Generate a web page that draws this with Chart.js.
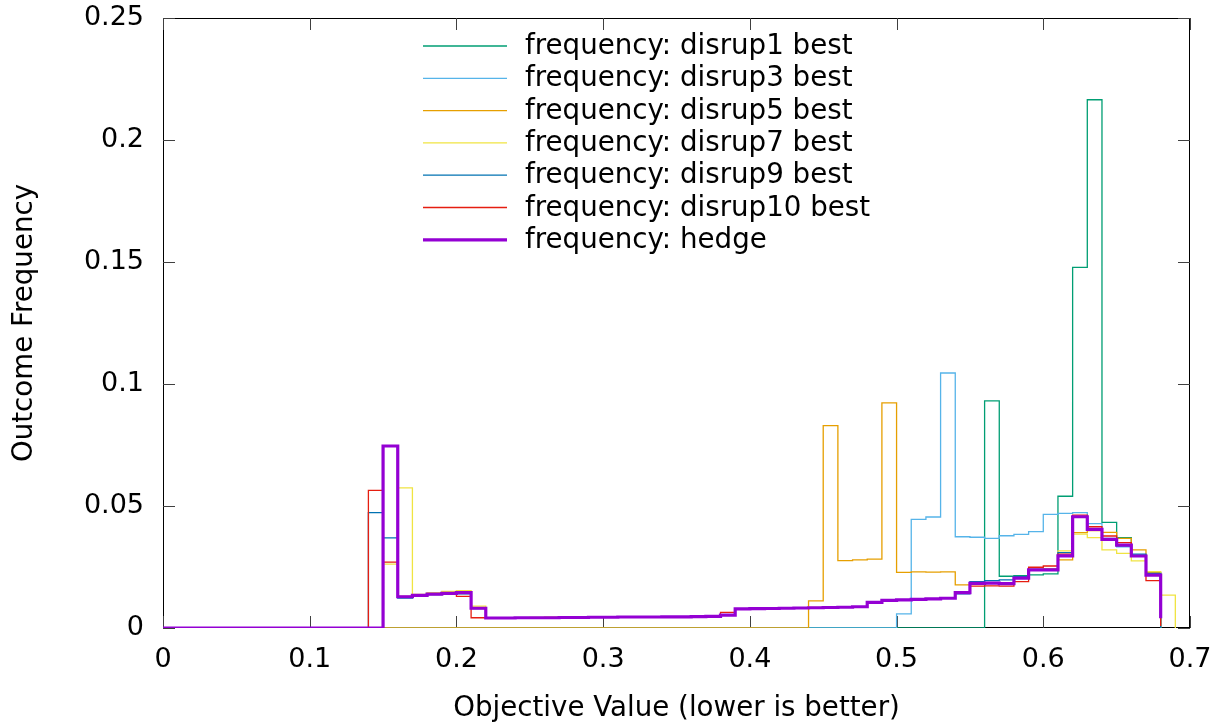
<!DOCTYPE html>
<html>
<head>
<meta charset="utf-8">
<script src="https://cdn.jsdelivr.net/npm/chart.js@4.4.1/dist/chart.umd.min.js"></script>
<style>
  html, body { margin: 0; padding: 0; background: #ffffff; }
  canvas { display: block; }
</style>
</head>
<body>
<canvas id="freqChart" width="1225" height="727"></canvas>
<script>
// bin left edges (objective value); first point is the origin of the baseline
const objective = [
  0,
  0.14, 0.15, 0.16, 0.17, 0.18, 0.19,
  0.20, 0.21, 0.22, 0.23, 0.24, 0.25, 0.26, 0.27, 0.28, 0.29,
  0.30, 0.31, 0.32, 0.33, 0.34, 0.35, 0.36, 0.37, 0.38, 0.39,
  0.40, 0.41, 0.42, 0.43, 0.44, 0.45, 0.46, 0.47, 0.48, 0.49,
  0.50, 0.51, 0.52, 0.53, 0.54, 0.55, 0.56, 0.57, 0.58, 0.59,
  0.60, 0.61, 0.62, 0.63, 0.64, 0.65, 0.66, 0.67, 0.68, 0.69
];

const disrup1 = [
  0,
  0, 0, 0, 0, 0, 0,
  0, 0, 0, 0, 0, 0, 0, 0, 0, 0,
  0, 0, 0, 0, 0, 0, 0, 0, 0, 0,
  0, 0, 0, 0, 0, 0, 0, 0, 0, 0,
  0, 0, 0, 0, 0, 0, 0.0931, 0.0212, 0.0215, 0.0218,
  0.0222, 0.0540, 0.1478, 0.2165, 0.0433, 0.0370, 0.0295, 0.0226, 0, null
];

const disrup3 = [
  0,
  0, 0, 0, 0, 0, 0,
  0, 0, 0, 0, 0, 0, 0, 0, 0, 0,
  0, 0, 0, 0, 0, 0, 0, 0, 0, 0,
  0, 0, 0, 0, 0, 0, 0, 0, 0, 0,
  0.0058, 0.0445, 0.0455, 0.1045, 0.0374, 0.0372, 0.0367, 0.0378, 0.0384, 0.0395,
  0.0466, 0.0470, 0.0473, 0.0428, 0.0367, 0.0333, 0.0300, 0.0224, 0, null
];

const disrup5 = [
  0,
  0, 0, 0, 0, 0, 0,
  0, 0, 0, 0, 0, 0, 0, 0, 0, 0,
  0, 0, 0, 0, 0, 0, 0, 0, 0, 0,
  0, 0, 0, 0, 0.0111, 0.0829, 0.0276, 0.0279, 0.0282, 0.0923,
  0.0228, 0.0230, 0.0229, 0.0230, 0.0177, 0.0180, 0.0183, 0.0182, 0.0205, 0.0240,
  0.0242, 0.0279, 0.0391, 0.0399, 0.0392, 0.0367, 0.0320, 0.0228, 0, null
];

const disrup7 = [
  0,
  0, 0.0262, 0.0574, 0.0138, 0.0145, 0.0150,
  0.0153, 0.0090, 0.0042, 0.0042, 0.0042, 0.0043, 0.0043, 0.0043, 0.0044, 0.0044,
  0.0045, 0.0045, 0.0045, 0.0046, 0.0046, 0.0047, 0.0047, 0.0048, 0.0055, 0.0079,
  0.0080, 0.0081, 0.0082, 0.0083, 0.0084, 0.0085, 0.0086, 0.0088, 0.0106, 0.0114,
  0.0116, 0.0118, 0.0120, 0.0123, 0.0145, 0.0183, 0.0184, 0.0182, 0.0205, 0.0240,
  0.0240, 0.0316, 0.0385, 0.0370, 0.0320, 0.0306, 0.0275, 0.0231, 0.0135, 0
];

const disrup9 = [
  0,
  0.0473, 0.0369, 0.0123, 0.0132, 0.0137, 0.0141,
  0.0140, 0.0080, 0.0041, 0.0041, 0.0042, 0.0042, 0.0042, 0.0043, 0.0043, 0.0044,
  0.0044, 0.0045, 0.0045, 0.0045, 0.0046, 0.0046, 0.0047, 0.0048, 0.0053, 0.0077,
  0.0079, 0.0080, 0.0081, 0.0082, 0.0083, 0.0084, 0.0085, 0.0087, 0.0104, 0.0113,
  0.0115, 0.0117, 0.0119, 0.0122, 0.0140, 0.0190, 0.0194, 0.0197, 0.0210, 0.0240,
  0.0240, 0.0309, 0.0455, 0.0402, 0.0361, 0.0338, 0.0303, 0.0224, 0, null
];

const disrup10 = [
  0,
  0.0564, 0.0270, 0.0130, 0.0135, 0.0138, 0.0140,
  0.0130, 0.0042, 0.0041, 0.0041, 0.0042, 0.0042, 0.0043, 0.0043, 0.0043, 0.0044,
  0.0044, 0.0045, 0.0045, 0.0046, 0.0046, 0.0046, 0.0047, 0.0048, 0.0064, 0.0078,
  0.0079, 0.0080, 0.0081, 0.0082, 0.0083, 0.0084, 0.0085, 0.0087, 0.0103, 0.0112,
  0.0115, 0.0117, 0.0119, 0.0122, 0.0143, 0.0172, 0.0173, 0.0172, 0.0190, 0.0249,
  0.0254, 0.0303, 0.0463, 0.0415, 0.0377, 0.0350, 0.0295, 0.0194, 0.0008, null
];

const hedge = [
  0,
  0, 0.0746, 0.0128, 0.0134, 0.0139, 0.0142,
  0.0145, 0.0081, 0.0041, 0.0041, 0.0042, 0.0042, 0.0042, 0.0043, 0.0043, 0.0044,
  0.0044, 0.0045, 0.0045, 0.0045, 0.0046, 0.0046, 0.0047, 0.0048, 0.0053, 0.0078,
  0.0079, 0.0080, 0.0081, 0.0082, 0.0083, 0.0084, 0.0085, 0.0087, 0.0105, 0.0113,
  0.0115, 0.0117, 0.0119, 0.0122, 0.0145, 0.0183, 0.0184, 0.0182, 0.0204, 0.0238,
  0.0238, 0.0296, 0.0456, 0.0404, 0.0363, 0.0340, 0.0295, 0.0217, 0.0040, null
];

const xTicks = [0, 0.1, 0.2, 0.3, 0.4, 0.5, 0.6, 0.7];
const yTicks = [0, 0.05, 0.1, 0.15, 0.2, 0.25];

const FONT = 'DejaVu Sans';
const FONT_SIZE = 27;
const LABEL_SIZE = 27.7;

function toPoints(values) {
  return objective.map((x, i) => ({ x: x, y: values[i] }));
}

function series(label, values, color, width, order) {
  return {
    label: label,
    data: toPoints(values),
    borderColor: color,
    backgroundColor: color,
    borderWidth: width,
    stepped: 'before',
    pointRadius: 0,
    fill: false,
    spanGaps: false,
    order: order
  };
}

// gnuplot-like box with inward ticks on all four sides
const frameTicks = {
  id: 'frameTicks',
  beforeDatasetsDraw(chart) {
    const { ctx, chartArea: a, scales } = chart;
    ctx.save();
    ctx.strokeStyle = '#000000';
    ctx.lineWidth = 1;
    ctx.strokeRect(a.left + 0.5, a.top + 0.5, a.right - a.left - 1, a.bottom - a.top - 1);
    ctx.strokeStyle = '#404040';
    ctx.beginPath();
    xTicks.forEach(v => {
      const px = Math.round(scales.x.getPixelForValue(v)) + 0.5;
      ctx.moveTo(px, a.bottom); ctx.lineTo(px, a.bottom - 12);
      ctx.moveTo(px, a.top); ctx.lineTo(px, a.top + 12);
    });
    yTicks.forEach(v => {
      const py = Math.round(scales.y.getPixelForValue(v)) + 0.5;
      ctx.moveTo(a.left, py); ctx.lineTo(a.left + 12, py);
      ctx.moveTo(a.right, py); ctx.lineTo(a.right - 12, py);
    });
    ctx.stroke();
    ctx.restore();
  }
};

// key in the top middle: line sample then label
const keyBox = {
  id: 'keyBox',
  afterDraw(chart) {
    const ctx = chart.ctx;
    ctx.save();
    ctx.font = LABEL_SIZE + 'px "' + FONT + '"';
    ctx.textAlign = 'left';
    ctx.textBaseline = 'middle';
    chart.data.datasets.forEach((ds, i) => {
      const y = 46 + i * 32.3;
      ctx.strokeStyle = ds.borderColor;
      ctx.lineWidth = ds.borderWidth;
      ctx.beginPath();
      ctx.moveTo(423, y);
      ctx.lineTo(507, y);
      ctx.stroke();
      ctx.fillStyle = '#000000';
      ctx.fillText(ds.label, 525, y + 1);
    });
    ctx.restore();
  }
};

Chart.defaults.font.family = FONT;
Chart.defaults.font.size = FONT_SIZE;
Chart.defaults.color = '#000000';

const ctx = document.getElementById('freqChart').getContext('2d');
const freqChart = new Chart(ctx, {
  type: 'line',
  data: {
    datasets: [
      series('frequency: disrup1 best', disrup1, '#009e73', 1.3, 6),
      series('frequency: disrup3 best', disrup3, '#56b4e9', 1.3, 5),
      series('frequency: disrup5 best', disrup5, '#e69f00', 1.3, 4),
      series('frequency: disrup7 best', disrup7, '#f0e442', 1.3, 3),
      series('frequency: disrup9 best', disrup9, '#0072b2', 1.3, 2),
      series('frequency: disrup10 best', disrup10, '#e51e10', 1.3, 1),
      series('frequency: hedge', hedge, '#9400d3', 3.2, 0)
    ]
  },
  options: {
    responsive: false,
    animation: false,
    devicePixelRatio: 1,
    layout: { padding: { left: 0, right: 35, top: 18, bottom: 0 } },
    plugins: {
      legend: { display: false },
      tooltip: { enabled: false }
    },
    scales: {
      x: {
        type: 'linear',
        min: 0,
        max: 0.7,
        afterBuildTicks: axis => { axis.ticks = xTicks.map(v => ({ value: v })); },
        afterFit: axis => {
          axis.height = 99;
          axis.paddingLeft = 0;
          axis.paddingRight = 0;
        },
        grid: { display: false, drawTicks: false },
        border: { display: false },
        ticks: { padding: 16, maxRotation: 0, callback: v => String(v) },
        title: {
          display: true,
          text: 'Objective Value (lower is better)',
          font: { size: LABEL_SIZE },
          padding: { top: 0, bottom: 2 }
        }
      },
      y: {
        type: 'linear',
        min: 0,
        max: 0.25,
        afterBuildTicks: axis => { axis.ticks = yTicks.map(v => ({ value: v })); },
        afterFit: axis => {
          axis.width = 163;
          axis.paddingTop = 0;
          axis.paddingBottom = 0;
        },
        grid: { display: false, drawTicks: false },
        border: { display: false },
        ticks: { padding: 19, callback: v => String(v) },
        title: {
          display: true,
          text: 'Outcome Frequency',
          font: { size: LABEL_SIZE },
          padding: { top: 8, bottom: 0 }
        }
      }
    }
  },
  plugins: [frameTicks, keyBox]
});
</script>
</body>
</html>
